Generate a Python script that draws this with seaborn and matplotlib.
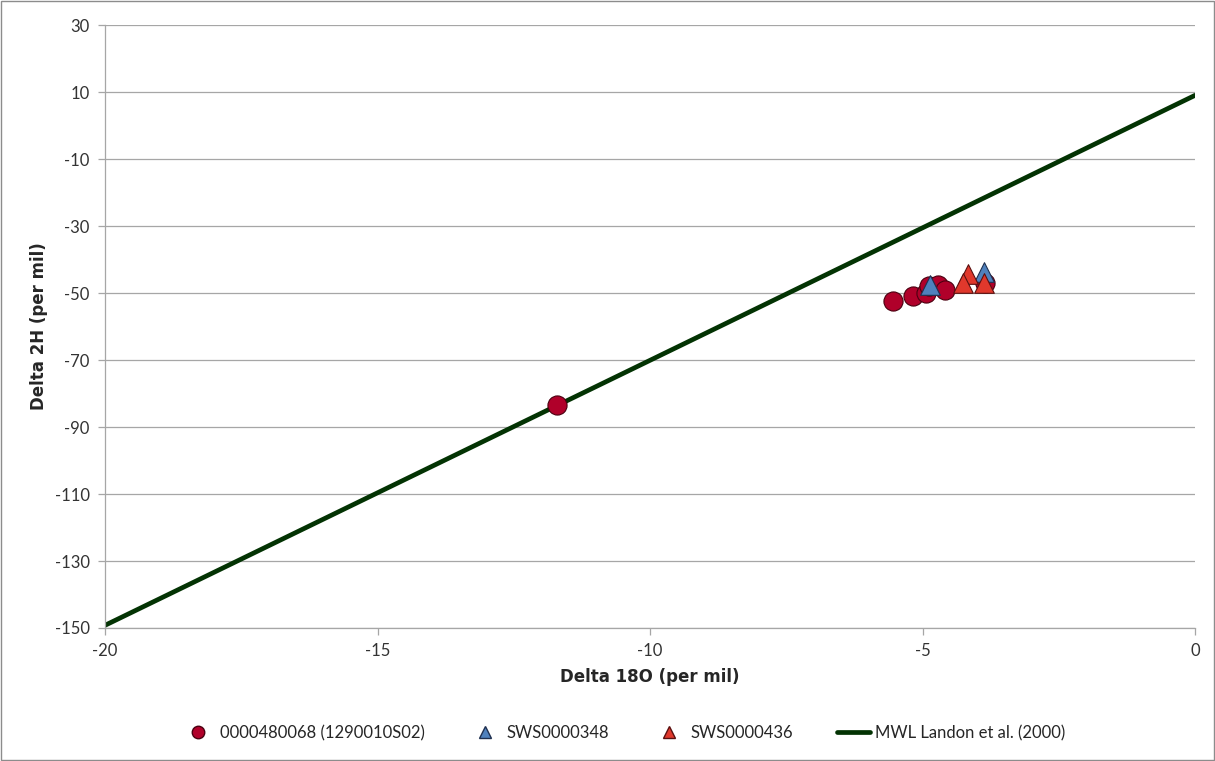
import matplotlib
matplotlib.use("Agg")
import matplotlib.pyplot as plt
import seaborn as sns
import pandas as pd
from matplotlib.lines import Line2D
from matplotlib.patches import Rectangle

# ---- data ----
well_x = [-11.71, -5.54, -5.17, -4.93, -4.88, -4.72, -4.59, -3.85]
well_y = [-83.4, -52.3, -51.0, -50.0, -48.0, -47.5, -49.0, -47.0]
sws348_x = [-4.86, -3.88]
sws348_y = [-47.6, -43.8]
sws436_x = [-4.16, -4.25, -3.88]
sws436_y = [-44.4, -47.1, -47.1]
mwl_x = [-20, 0]
mwl_y = [-149.2, 9.0]

x_ticks = [-20, -15, -10, -5, 0]
y_ticks = [30, 10, -10, -30, -50, -70, -90, -110, -130, -150]

sns.set_theme(style="white")
plt.rcParams['font.family'] = ['Lato', 'DejaVu Sans']

LINE_C = "#033303"

fig = plt.figure(figsize=(12.15, 7.61), dpi=100)
ax = fig.add_axes([105/1215, 1-628/761, (1195-105)/1215, (628-25)/761])

for yt in y_ticks:
    ax.axhline(yt, color="#a6a6a6", lw=0.9, zorder=0)

sns.lineplot(x=mwl_x, y=mwl_y, ax=ax, color=LINE_C, lw=3.4, zorder=2)
sns.scatterplot(x=well_x, y=well_y, ax=ax, marker="o", s=190, color="#b0002a",
                edgecolor="#4a0010", linewidth=0.8, zorder=3)
sns.scatterplot(x=sws348_x, y=sws348_y, ax=ax, marker="^", s=200, color="#4f81bd",
                edgecolor="#1f3050", linewidth=0.8, zorder=4)
sns.scatterplot(x=sws436_x, y=sws436_y, ax=ax, marker="^", s=200, color="#e0382c",
                edgecolor="#5a1010", linewidth=0.8, zorder=4)

ax.set_xlim(-20, 0)
ax.set_ylim(-150, 30)
ax.set_xticks(x_ticks)
ax.set_yticks(y_ticks)
ax.set_xticklabels([str(v) for v in x_ticks], fontsize=12, color="#333333")
ax.set_yticklabels([str(v) for v in y_ticks], fontsize=12, color="#333333")
ax.tick_params(axis="both", length=5, width=0.9, color="#a6a6a6", direction="out",
               left=True, bottom=True, pad=6)
for s in ["top", "right"]:
    ax.spines[s].set_visible(False)
for s in ["left", "bottom"]:
    ax.spines[s].set_color("#a6a6a6")
    ax.spines[s].set_linewidth(0.9)

ax.set_xlabel("Delta 18O (per mil)", fontsize=12, fontweight="bold", labelpad=6,
              family=["DejaVu Sans"])
ax.set_ylabel("Delta 2H (per mil)", fontsize=12, fontweight="bold", labelpad=5,
              family=["DejaVu Sans"])

handles = [
    Line2D([], [], marker="o", ls="none", markersize=9, markerfacecolor="#b0002a", markeredgecolor="#4a0010"),
    Line2D([], [], marker="^", ls="none", markersize=9, markerfacecolor="#4f81bd", markeredgecolor="#1f3050"),
    Line2D([], [], marker="^", ls="none", markersize=9, markerfacecolor="#e0382c", markeredgecolor="#5a1010"),
    Line2D([], [], color=LINE_C, lw=3.4),
]
labels = ["0000480068 (1290010S02)", "SWS0000348", "SWS0000436", "MWL Landon et al. (2000)"]
fig.legend(handles, labels, loc="center", bbox_to_anchor=(0.513, 1-733/761), ncol=4,
           frameon=False, fontsize=12, columnspacing=2.6, handletextpad=0.3, handlelength=2.0)

fig.patches.append(Rectangle((0.0008, 0.001), 0.9984, 0.9975, transform=fig.transFigure,
                             fill=False, edgecolor="#8c8c8c", lw=1.0))

fig.savefig("out.png", dpi=100)
